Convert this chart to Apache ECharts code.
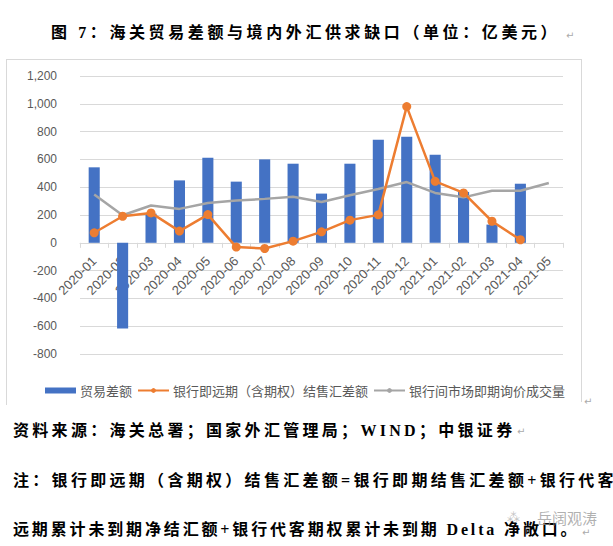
<!DOCTYPE html>
<html>
<head>
<meta charset="utf-8">
<script src="https://cdn.jsdelivr.net/npm/echarts@6/dist/echarts.min.js"></script>
<style>html,body{margin:0;padding:0;background:#fff;}#c{width:613px;height:546px;}</style>
</head>
<body>
<div id="c"></div>
<script>
const categories = ['2020-01','2020-02','2020-03','2020-04','2020-05','2020-06','2020-07','2020-08','2020-09','2020-10','2020-11','2020-12','2021-01','2021-02','2021-03','2021-04','2021-05'];
const tradeBalance = [543,-617,210,449,612,440,600,569,354,569,741,763,633,366,131,425,null];
const bankFxNet = [72,191,215,84,203,-31,-41,12,79,163,201,980,442,359,155,22,null];
const interbankVolume = [347,198,268,244,287,304,316,332,294,342,387,437,359,327,375,375,430];
const seriesNames = ['贸易差额','银行即远期（含期权）结售汇差额','银行间市场即期询价成交量'];
const titleText = '图 7：海关贸易差额与境内外汇供求缺口（单位：亿美元）';
const note1 = '资料来源：海关总署；国家外汇管理局；WIND；中银证券';
const note2 = '注：银行即远期（含期权）结售汇差额=银行即期结售汇差额+银行代客期权';
const note3 = '远期累计未到期净结汇额+银行代客期权累计未到期 Delta 净敞口。';
const watermark = '岳阔观涛';

const chart = echarts.init(document.getElementById('c'), null, {renderer:'svg'});
const bodyFont = '"Liberation Serif","Noto Sans CJK SC",serif';
const axisFont = '"Liberation Sans","Noto Sans CJK SC",sans-serif';
const mark = {fill:'#aaa', fontSize:10, fontFamily:'"DejaVu Sans"'};
const gridTop = 76, gridBottom = 192, chartH = 546 - gridTop - gridBottom;
const yMin = -800, yMax = 1200;
const zeroOffset = -chartH * (0 - yMin) / (yMax - yMin);
chart.setOption({
  animation:false,
  backgroundColor:'#fff',
  grid:{left:80,right:50,top:gridTop,bottom:gridBottom,containLabel:false},
  legend:{
    left:40, top:379, itemWidth:31, itemHeight:6, itemGap:5,
    textStyle:{color:'#595959',fontSize:13,fontFamily:'"Noto Sans CJK SC"',padding:[0,0,0,-1]},
    data:[
      {name:seriesNames[0], icon:'rect'},
      {name:seriesNames[1]},
      {name:seriesNames[2]}
    ]
  },
  xAxis:{
    type:'category', data:categories, position:'bottom', offset:zeroOffset,
    axisLine:{onZero:false,lineStyle:{color:'#D9D9D9',width:1}},
    axisTick:{show:true,length:5,lineStyle:{color:'#D9D9D9'}},
    axisLabel:{rotate:45,margin:16,color:'#595959',fontSize:13,fontFamily:axisFont,interval:0}
  },
  yAxis:{
    type:'value', min:yMin, max:yMax, interval:200,
    axisLine:{show:false}, axisTick:{show:false},
    splitLine:{lineStyle:{color:'#D9D9D9'}},
    axisLabel:{margin:23,color:'#595959',fontSize:12,fontFamily:axisFont,
      formatter:v=>v.toLocaleString('en-US')}
  },
  series:[
    {name:seriesNames[0], type:'bar', data:tradeBalance, barWidth:'39%',
     itemStyle:{color:'#4472C4'}, z:2},
    {name:seriesNames[2], type:'line', data:interbankVolume, symbol:'none',
     lineStyle:{color:'#A5A5A5',width:2.5}, itemStyle:{color:'#A5A5A5'}, z:3},
    {name:seriesNames[1], type:'line', data:bankFxNet, symbol:'circle', symbolSize:9,
     lineStyle:{color:'#ED7D31',width:2.5}, itemStyle:{color:'#ED7D31'}, z:4}
  ],
  graphic:[
    {type:'line', shape:{x1:6.5,y1:59,x2:6.5,y2:405}, style:{stroke:'#D9D9D9',lineWidth:1}},
    {type:'line', shape:{x1:6,y1:59.5,x2:582,y2:59.5}, style:{stroke:'#D9D9D9',lineWidth:1}},
    {type:'line', shape:{x1:581.5,y1:59,x2:581.5,y2:402}, style:{stroke:'#D9D9D9',lineWidth:1}},
    {type:'text', left:51, top:24, style:{text:titleText, fill:'#000', font:'bold 16px '+bodyFont}},
    {type:'text', left:566, top:30, style:Object.assign({text:'↵'},mark)},
    {type:'text', left:584, top:396, style:Object.assign({text:'↵'},mark)},
    {type:'text', left:13, top:422, style:{text:note1, fill:'#000', font:'bold 16px '+bodyFont}},
    {type:'text', left:517, top:426, style:Object.assign({text:'↵'},mark)},
    {type:'text', left:13, top:472, style:{text:note2, fill:'#000', font:'bold 16px '+bodyFont}},
    {type:'text', left:13, top:521, style:{text:note3, fill:'#000', font:'bold 16px '+bodyFont}},
    {type:'text', left:582, top:527, style:Object.assign({text:'↵'},mark)},
    {type:'text', left:537, top:510, style:{text:watermark, fill:'rgba(150,150,150,0.75)', fontSize:15, fontFamily:'"Noto Sans CJK SC"'}},
    {type:'text', left:507, top:511, style:{text:'⁂', fill:'rgba(170,170,170,0.7)', fontSize:13, fontFamily:'"DejaVu Sans"'}}
  ]
});
function spacing(){
  const map = [[titleText,'3.6px'],[note1,'3.3px'],[note2,'3.3px'],[note3,'2.85px']];
  document.querySelectorAll('#c svg text').forEach(t=>{
    const s = t.textContent;
    map.forEach(([k,v])=>{ if(s===k) t.setAttribute('letter-spacing',v); });
  });
}
chart.on('finished', spacing);
setTimeout(spacing, 50);
setTimeout(spacing, 300);
</script>
</body>
</html>
